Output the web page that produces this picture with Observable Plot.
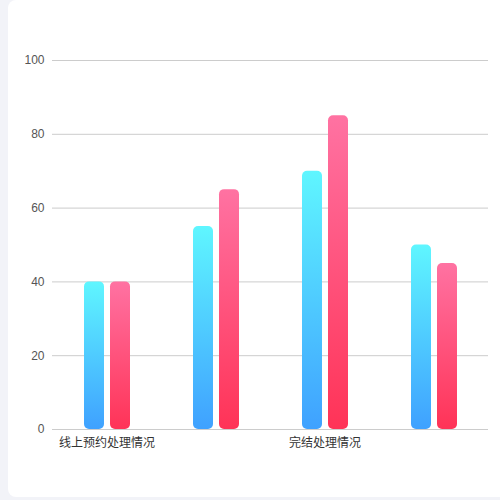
<!DOCTYPE html>
<html>
<head>
<meta charset="utf-8">
<script src="https://cdn.jsdelivr.net/npm/d3@7"></script>
<script src="https://cdn.jsdelivr.net/npm/@observablehq/plot@0.6"></script>
<style>
  html, body { margin: 0; padding: 0; background: #f2f3f8; width: 500px; height: 500px; overflow: hidden; }
  #card { position: absolute; left: 8px; top: 0; width: 520px; height: 497px; background: #fff; border-radius: 8px; }
  #chart { position: absolute; left: 0; top: 0; }
  #chart svg { background: transparent; }
</style>
</head>
<body>
<div id="card"></div>
<div id="chart"></div>
<script>
const categories = ["c1", "c2", "c3", "c4"];
const tickLabels = ["线上预约处理情况", "", "完结处理情况", ""];
const seriesNames = ["A", "B"];
const seriesA = [40, 55, 70, 50];
const seriesB = [40, 65, 85, 45];
const yTicks = [0, 20, 40, 60, 80, 100];

const rows = [];
categories.forEach((c, i) => {
  rows.push({cat: c, series: seriesNames[0], value: seriesA[i]});
  rows.push({cat: c, series: seriesNames[1], value: seriesB[i]});
});

const chart = Plot.plot({
  width: 500,
  height: 500,
  marginLeft: 52,
  marginRight: 12,
  marginTop: 60,
  marginBottom: 71,
  style: {fontFamily: "'Liberation Sans', 'Noto Sans CJK SC', sans-serif", fontSize: "12px", color: "#333", background: "transparent"},
  fx: {domain: categories, padding: 0, label: null, tickSize: 0, tickPadding: 9,
       tickFormat: d => tickLabels[categories.indexOf(d)]},
  x: {domain: seriesNames, paddingInner: 0.25, paddingOuter: 1.22, axis: null},
  y: {domain: [0, 100], ticks: yTicks, label: null, tickSize: 0, tickPadding: 8},
  marks: [
    Plot.ruleY(yTicks, {stroke: "#cccccc", strokeWidth: 1}),
    Plot.barY(rows.filter(d => d.series === seriesNames[0]), {fx: "cat", x: "series", y: "value", fill: "url(#gradBlue)", rx: 5}),
    Plot.barY(rows.filter(d => d.series === seriesNames[1]), {fx: "cat", x: "series", y: "value", fill: "url(#gradRed)", rx: 5})
  ]
});

const defs = `<defs>
<linearGradient id="gradBlue" x1="0" y1="0" x2="0" y2="1">
<stop offset="0" stop-color="#5ff6ff"/><stop offset="1" stop-color="#3fa1ff"/></linearGradient>
<linearGradient id="gradRed" x1="0" y1="0" x2="0" y2="1">
<stop offset="0" stop-color="#ff72a2"/><stop offset="1" stop-color="#ff3357"/></linearGradient>
</defs>`;
chart.insertAdjacentHTML("afterbegin", defs);
d3.select(chart).selectAll("[aria-label='y-axis tick label'] text, g[aria-label='y-axis tick label']").attr("fill", "#555");
d3.select(chart).selectAll("[aria-label='fx-axis tick label']").attr("fill", "#333");
document.getElementById("chart").appendChild(chart);
</script>
</body>
</html>
